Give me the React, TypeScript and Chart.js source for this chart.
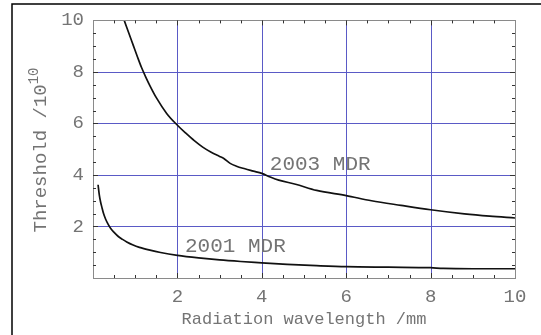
import React, { useEffect, useRef } from "react";
import { Chart, registerables } from "chart.js";

Chart.register(...registerables);

const mdr2003X = [0.74, 0.85, 0.95, 1.05, 1.15, 1.25, 1.35, 1.5, 1.75, 2.0, 2.2, 2.4, 2.6, 2.8, 3.0, 3.1, 3.25, 3.4, 3.6, 3.8, 4.0, 4.2, 4.4, 4.8, 5.3, 6.0, 6.6, 7.3, 8.0, 8.8, 9.4, 10];
const mdr2003Y = [10, 9.5, 9.05, 8.6, 8.17, 7.8, 7.46, 7.0, 6.38, 5.93, 5.62, 5.33, 5.08, 4.88, 4.72, 4.64, 4.45, 4.34, 4.24, 4.15, 4.06, 3.92, 3.8, 3.64, 3.4, 3.2, 3.0, 2.82, 2.65, 2.49, 2.4, 2.33];

const mdr2001X = [0.12, 0.15, 0.18, 0.21, 0.25, 0.3, 0.36, 0.42, 0.5, 0.6, 0.7, 0.8, 0.95, 1.1, 1.35, 1.6, 2.0, 2.5, 3.0, 3.5, 4.0, 4.6, 5.3, 6.0, 7.0, 8.0, 8.3, 9, 10];
const mdr2001Y = [3.62, 3.22, 2.95, 2.75, 2.5, 2.28, 2.08, 1.92, 1.77, 1.61, 1.5, 1.4, 1.28, 1.19, 1.08, 0.99, 0.88, 0.78, 0.7, 0.64, 0.59, 0.53, 0.48, 0.44, 0.42, 0.4, 0.37, 0.36, 0.36];

const xTickLabels = ["2", "4", "6", "8", "10"];
const yTickLabels = ["2", "4", "6", "8", "10"];
const gridValues = [2, 4, 6, 8];

const curveLabels = ["2003 MDR", "2001 MDR"];
const curveLabelX = [4.19, 2.18];
const curveLabelY = [4.42, 1.23];

const MONO = "'Liberation Mono', 'DejaVu Sans Mono', monospace";
const TEXT_COLOR = "#747474";

function toPoints(xs: number[], ys: number[]) {
  return xs.map((x, i) => ({ x, y: ys[i] }));
}

const decorPlugin = {
  id: "decor",
  beforeDraw(chart: any) {
    const ctx = chart.ctx;
    ctx.save();
    ctx.fillStyle = "#ffffff";
    ctx.fillRect(0, 0, chart.width, chart.height);
    ctx.restore();
  },
  beforeDatasetsDraw(chart: any) {
    const ctx = chart.ctx;
    const { left, right, top, bottom } = chart.chartArea;
    const xs = chart.scales.x;
    const ys = chart.scales.y;
    ctx.save();
    ctx.strokeStyle = "#5a5ac6";
    ctx.lineWidth = 1;
    gridValues.forEach((v) => {
      const px = Math.round(xs.getPixelForValue(v)) + 0.5;
      ctx.beginPath();
      ctx.moveTo(px, top);
      ctx.lineTo(px, bottom);
      ctx.stroke();
      const py = Math.round(ys.getPixelForValue(v)) + 0.5;
      ctx.beginPath();
      ctx.moveTo(left, py);
      ctx.lineTo(right, py);
      ctx.stroke();
    });
    ctx.restore();
  },
  afterDraw(chart: any) {
    const ctx = chart.ctx;
    const { left, right, top, bottom } = chart.chartArea;
    const xs = chart.scales.x;
    const ys = chart.scales.y;
    ctx.save();
    // plot frame
    ctx.strokeStyle = "#8a8a8a";
    ctx.lineWidth = 1;
    ctx.strokeRect(Math.round(left) + 0.5, Math.round(top) + 0.5, Math.round(right - left), Math.round(bottom - top));
    // inward ticks
    ctx.strokeStyle = "#333333";
    ctx.lineWidth = 1;
    for (let v = 0.5; v < 10; v += 0.5) {
      const major = Math.abs(v - Math.round(v)) < 1e-6 && Math.round(v) % 2 === 0;
      const len = major ? 5 : 3;
      const px = Math.round(xs.getPixelForValue(v)) + 0.5;
      ctx.beginPath();
      ctx.moveTo(px, bottom);
      ctx.lineTo(px, bottom - len);
      ctx.moveTo(px, top);
      ctx.lineTo(px, top + len);
      ctx.stroke();
      const py = Math.round(ys.getPixelForValue(v)) + 0.5;
      ctx.beginPath();
      ctx.moveTo(left, py);
      ctx.lineTo(left + len, py);
      ctx.moveTo(right, py);
      ctx.lineTo(right - len, py);
      ctx.stroke();
    }
    // outer frame lines
    ctx.strokeStyle = "#000000";
    ctx.lineWidth = 1.5;
    ctx.beginPath();
    ctx.moveTo(12, chart.height);
    ctx.lineTo(12, 4);
    ctx.lineTo(chart.width, 4);
    ctx.stroke();
    // curve labels
    ctx.fillStyle = TEXT_COLOR;
    ctx.font = "21px " + MONO;
    ctx.textBaseline = "middle";
    ctx.textAlign = "left";
    curveLabels.forEach((t, i) => {
      ctx.fillText(t, xs.getPixelForValue(curveLabelX[i]), ys.getPixelForValue(curveLabelY[i]));
    });
    // y title with superscript
    ctx.translate(40, 150);
    ctx.rotate(-Math.PI / 2);
    ctx.fillStyle = TEXT_COLOR;
    const main = "Threshold /10";
    const sup = "10";
    ctx.font = "19px " + MONO;
    const wMain = ctx.measureText(main).width;
    ctx.font = "14px " + MONO;
    const wSup = ctx.measureText(sup).width;
    const total = wMain + wSup;
    ctx.textAlign = "left";
    ctx.textBaseline = "alphabetic";
    ctx.font = "19px " + MONO;
    ctx.fillText(main, -total / 2, 6);
    ctx.font = "14px " + MONO;
    ctx.fillText(sup, -total / 2 + wMain, -2);
    ctx.restore();
  },
};

export default function App() {
  const ref = useRef<HTMLCanvasElement | null>(null);
  useEffect(() => {
    document.body.style.margin = "0";
    const canvas = ref.current;
    if (!canvas) return;
    const chart = new Chart(canvas, {
      type: "scatter",
      data: {
        datasets: [
          {
            label: "2003 MDR",
            data: toPoints(mdr2003X, mdr2003Y),
            showLine: true,
            borderColor: "#111111",
            borderWidth: 1.7,
            pointRadius: 0,
            cubicInterpolationMode: "monotone",
          },
          {
            label: "2001 MDR",
            data: toPoints(mdr2001X, mdr2001Y),
            showLine: true,
            borderColor: "#111111",
            borderWidth: 1.7,
            pointRadius: 0,
            cubicInterpolationMode: "monotone",
          },
        ],
      },
      options: {
        animation: false,
        responsive: false,
        devicePixelRatio: 1,
        layout: { padding: { left: 0, right: 26, top: 18, bottom: 0 } },
        plugins: { legend: { display: false }, tooltip: { enabled: false } },
        scales: {
          x: {
            type: "linear",
            min: 0,
            max: 10,
            afterFit: (s: any) => {
              s.height = 57;
            },
            afterBuildTicks: (s: any) => {
              s.ticks = [0, 2, 4, 6, 8, 10].map((v) => ({ value: v }));
            },
            ticks: {
              autoSkip: false,
              maxRotation: 0,
              padding: 8,
              color: TEXT_COLOR,
              font: { family: MONO, size: 19 },
              callback: (v: any) => {
                const idx = [2, 4, 6, 8, 10].indexOf(Number(v));
                return idx >= 0 ? xTickLabels[idx] : "";
              },
            },
            grid: { display: false, drawTicks: false },
            border: { display: false },
            title: {
              display: true,
              text: "Radiation wavelength /mm",
              color: TEXT_COLOR,
              font: { family: MONO, size: 17 },
              padding: { top: 0, bottom: 5 },
            },
          },
          y: {
            type: "linear",
            min: 0,
            max: 10,
            afterFit: (s: any) => {
              s.width = 93;
            },
            afterBuildTicks: (s: any) => {
              s.ticks = [0, 2, 4, 6, 8, 10].map((v) => ({ value: v }));
            },
            ticks: {
              autoSkip: false,
              padding: 9,
              color: TEXT_COLOR,
              font: { family: MONO, size: 19 },
              callback: (v: any) => {
                const idx = [2, 4, 6, 8, 10].indexOf(Number(v));
                return idx >= 0 ? yTickLabels[idx] : "";
              },
            },
            grid: { display: false, drawTicks: false },
            border: { display: false },
          },
        },
      },
      plugins: [decorPlugin],
    } as any);
    return () => chart.destroy();
  }, []);
  return (
    <div style={{ width: 541, height: 335 }}>
      <canvas ref={ref} width={541} height={335} style={{ display: "block", width: 541, height: 335 }} />
    </div>
  );
}
